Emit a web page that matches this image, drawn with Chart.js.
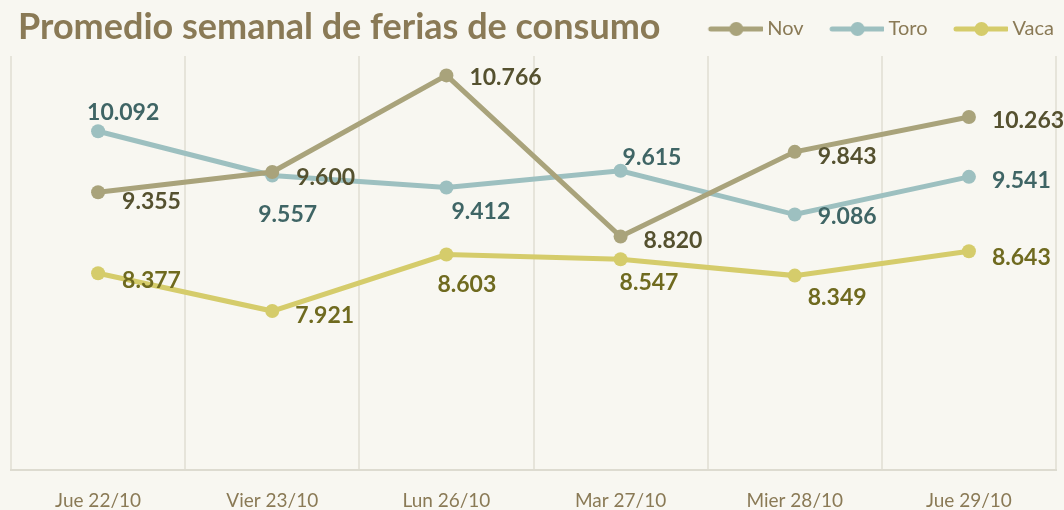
<!DOCTYPE html>
<html>
<head>
<meta charset="utf-8">
<script src="https://cdn.jsdelivr.net/npm/chart.js@4/dist/chart.umd.min.js"></script>
<style>
  html, body { margin: 0; padding: 0; background: #f8f7f1; overflow: hidden; }
  #wrap { width: 1072px; height: 510px; position: relative; }
</style>
</head>
<body>
<div id="wrap"><canvas id="chart"></canvas></div>
<script>
(function(){
  'use strict';

  const categories = ['Jue 22/10', 'Vier 23/10', 'Lun 26/10', 'Mar 27/10', 'Mier 28/10', 'Jue 29/10'];
  const novValues  = [9.355, 9.600, 10.766, 8.820, 9.843, 10.263];
  const toroValues = [10.092, 9.557, 9.412, 9.615, 9.086, 9.541];
  const vacaValues = [8.377, 7.921, 8.603, 8.547, 8.349, 8.643];
  const seriesNames = ['Nov', 'Toro', 'Vaca'];

  // where each value label sits relative to its point: [dx, dy]
  const novLabelPos  = [[24, 9], [24, 6], [23, 2], [23, 4], [23, 5], [23, 4]];
  const toroLabelPos = [[-11, -19], [-14, 39], [5, 24], [2, -13], [23, 2], [23, 4]];
  const vacaLabelPos = [[24, 7], [23, 5], [-9, 30], [-1, 23], [13, 22], [23, 6]];

  const TEXT = '#8a7a56';
  const FONT = 'Lato, "Open Sans", sans-serif';

  function fmt(v) { return v.toFixed(3); }

  function legendGlyph(color) {
    const c = document.createElement('canvas');
    c.width = 70; c.height = 16;
    const g = c.getContext('2d');
    g.strokeStyle = color;
    g.lineWidth = 5;
    g.lineCap = 'round';
    g.beginPath(); g.moveTo(18, 8); g.lineTo(69, 8); g.stroke();
    g.fillStyle = color;
    g.beginPath(); g.arc(43.5, 8, 7, 0, Math.PI * 2); g.fill();
    return c;
  }

  function series(label, data, color, labelColor, pos) {
    return {
      label, data,
      borderColor: color,
      backgroundColor: color,
      borderWidth: 5,
      pointRadius: 7,
      pointHoverRadius: 7,
      pointBorderWidth: 0,
      pointBackgroundColor: color,
      tension: 0,
      labelColor, labelPos: pos,
      glyph: legendGlyph(color)
    };
  }

  const headerTitle = {
    id: 'headerTitle',
    afterLayout(chart) {
      // legend sits a little further right / higher than the layout box gives it
      const lg = chart.legend;
      if (lg) { lg.left += 14; lg.right += 14; lg.top -= 7; lg.bottom -= 7; }
    },
    afterDraw(chart) {
      const ctx = chart.ctx;
      ctx.save();
      ctx.font = 'bold 36px ' + FONT;
      ctx.fillStyle = TEXT;
      ctx.textBaseline = 'alphabetic';
      ctx.textAlign = 'left';
      ctx.fillText('Promedio semanal de ferias de consumo', 18, 39);
      ctx.restore();
    }
  };

  const valueLabels = {
    id: 'valueLabels',
    afterDatasetsDraw(chart) {
      const ctx = chart.ctx;
      ctx.save();
      ctx.font = 'bold 23px ' + FONT;
      ctx.textBaseline = 'middle';
      ctx.textAlign = 'left';
      chart.data.datasets.forEach((ds, i) => {
        const meta = chart.getDatasetMeta(i);
        meta.data.forEach((pt, j) => {
          const p = ds.labelPos[j];
          ctx.fillStyle = ds.labelColor;
          ctx.fillText(fmt(ds.data[j]), pt.x + p[0], pt.y + p[1]);
        });
      });
      ctx.restore();
    }
  };

  const ctx = document.getElementById('chart').getContext('2d');
  new Chart(ctx, {
    type: 'line',
    data: {
      labels: categories,
      datasets: [
        series(seriesNames[0], novValues, '#a9a37b', '#55512f', novLabelPos),
        series(seriesNames[1], toroValues, '#9dc0c0', '#3f6565', toroLabelPos),
        series(seriesNames[2], vacaValues, '#d5cc6b', '#6f6a1f', vacaLabelPos)
      ]
    },
    options: {
      responsive: true,
      maintainAspectRatio: false,
      animation: false,
      layout: { padding: { left: 11, right: 16, top: 10, bottom: -21 } },
      plugins: {
        tooltip: { enabled: false },
        legend: {
          position: 'top',
          align: 'end',
          labels: {
            usePointStyle: true,
            pointStyleWidth: 59,
            padding: 16,
            color: TEXT,
            font: { family: FONT, size: 20 },
            generateLabels: (chart) => chart.data.datasets.map((ds, i) => ({
              text: ds.label,
              pointStyle: ds.glyph,
              fontColor: TEXT,
              fillStyle: ds.borderColor,
              strokeStyle: ds.borderColor,
              lineWidth: 0,
              hidden: false,
              datasetIndex: i
            }))
          }
        }
      },
      scales: {
        x: {
          offset: true,
          grid: { offset: true, color: '#e6e4da', lineWidth: 2, drawTicks: false },
          border: { color: '#dddbd0', width: 2 },
          ticks: { color: TEXT, font: { family: FONT, size: 19 }, padding: 19 }
        },
        y: {
          display: false,
          min: 6,
          max: 11
        }
      }
    },
    plugins: [headerTitle, valueLabels]
  });
})();
</script>
</body>
</html>
